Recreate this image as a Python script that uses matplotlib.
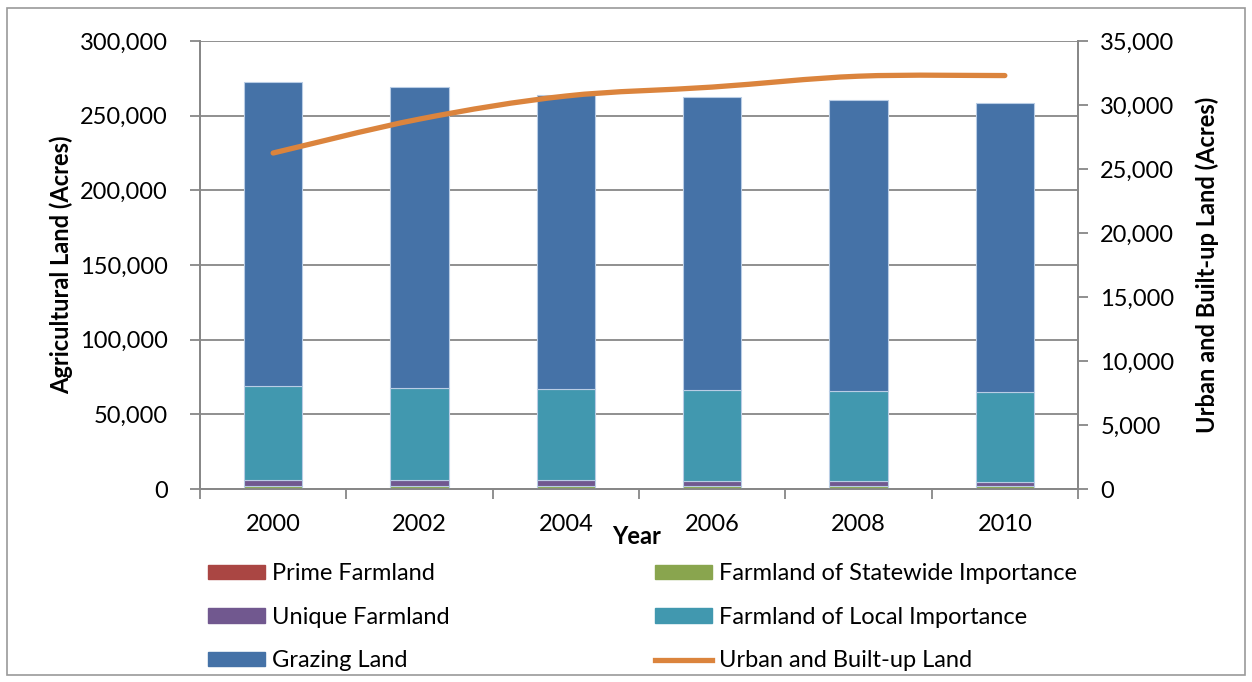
import numpy as np
import matplotlib
matplotlib.use("Agg")
import matplotlib.pyplot as plt
from matplotlib.path import Path
from matplotlib.patches import PathPatch, Rectangle, Patch
from matplotlib.lines import Line2D
from matplotlib.ticker import FuncFormatter, MultipleLocator

plt.rcParams['font.family'] = ['Lato', 'DejaVu Sans']

# Farmland acreage by year
years = ['2000', '2002', '2004', '2006', '2008', '2010']
prime = [200, 200, 200, 200, 200, 200]
statewide = [1500, 1500, 1500, 1500, 1500, 1500]
unique = [4500, 4200, 4000, 3700, 3600, 3200]
local = [62800, 61700, 61300, 60900, 60300, 60100]
grazing = [203500, 201600, 196800, 196200, 194900, 193500]
urban = [26250, 28900, 30700, 31400, 32250, 32300]

c_prime = '#AA4643'
c_state = '#89A54E'
c_unique = '#71588F'
c_local = '#4198AF'
c_grazing = '#4572A7'
c_urban = '#DB843D'
grid_c = '#878787'
fs = 17

fig = plt.figure(figsize=(12.52, 6.82), dpi=100)
ax = fig.add_axes([200/1252, 1-489/682, 878/1252, 448/682])
ax2 = ax.twinx()

x = np.arange(len(years))
w = 0.4
bottom = np.zeros(len(years))
for vals, col in [(prime, c_prime), (statewide, c_state), (unique, c_unique),
                  (local, c_local), (grazing, c_grazing)]:
    ax.bar(x, vals, w, bottom=bottom, color=col, edgecolor='#B9CDE5',
           linewidth=0.8, zorder=3)
    bottom += np.array(vals)

ax.set_xlim(-0.5, len(years) - 0.5)
ax.set_ylim(0, 300000)
ax.yaxis.set_major_locator(MultipleLocator(50000))
ax.yaxis.set_major_formatter(FuncFormatter(lambda v, p: f"{int(v):,}"))
ax.grid(axis='y', color=grid_c, linewidth=1.3, zorder=0)
ax.set_axisbelow(True)
ax.set_xticks(x)
ax.set_xticklabels(years)
ax.set_xticks(np.arange(-0.5, len(years)), minor=True)
ax.tick_params(axis='x', which='major', length=0, pad=18, labelsize=fs)
ax.tick_params(axis='x', which='minor', length=7, width=1.3, color=grid_c)
ax.tick_params(axis='y', length=7, width=1.3, color=grid_c, labelsize=fs, pad=16)

for a in (ax, ax2):
    a.spines['top'].set_visible(False)
    for s in ('left', 'right', 'bottom'):
        a.spines[s].set_color(grid_c)
        a.spines[s].set_linewidth(1.3)

ax2.set_ylim(0, 35000)
ax2.yaxis.set_major_locator(MultipleLocator(5000))
ax2.yaxis.set_major_formatter(FuncFormatter(lambda v, p: f"{int(v):,}"))
ax2.tick_params(axis='y', length=7, width=1.3, color=grid_c, labelsize=fs, pad=9)

# smoothed urban line drawn as bezier segments through the yearly points
pts = np.column_stack([x, urban]).astype(float)
ext = np.vstack([pts[0], pts, pts[-1]])
verts = [tuple(pts[0])]
codes = [Path.MOVETO]
for i in range(len(pts) - 1):
    p0, p1, p2, p3 = ext[i], ext[i + 1], ext[i + 2], ext[i + 3]
    c1 = p1 + (p2 - p0) / 6
    c2 = p2 - (p3 - p1) / 6
    verts += [tuple(c1), tuple(c2), tuple(p2)]
    codes += [Path.CURVE4] * 3
ax2.add_patch(PathPatch(Path(verts, codes), facecolor='none', edgecolor=c_urban,
                        linewidth=3.8, capstyle='round', zorder=4))

ax.set_ylabel('Agricultural Land (Acres)', fontsize=fs, fontweight='bold')
ax.yaxis.set_label_coords(-0.145, 0.5)
ax2.set_ylabel('Urban and Built-up Land (Acres)', fontsize=fs, fontweight='bold')
ax2.yaxis.set_label_coords(1.134, 0.5)
fig.text(637/1252, 1-537/682, 'Year', fontsize=fs, fontweight='bold',
         ha='center', va='center')

handles = [Patch(color=c_prime), Patch(color=c_unique), Patch(color=c_grazing),
           Patch(color=c_state), Patch(color=c_local),
           Line2D([], [], color=c_urban, linewidth=3.8)]
labels = ['Prime Farmland', 'Unique Farmland', 'Grazing Land',
          'Farmland of Statewide Importance', 'Farmland of Local Importance',
          'Urban and Built-up Land']
fig.legend(handles, labels, ncol=2, loc='upper left',
           bbox_to_anchor=(199/1252, 1-554/682), frameon=False, fontsize=fs,
           handlelength=2.4, handleheight=0.55, handletextpad=0.3,
           columnspacing=8.7, labelspacing=0.95, borderaxespad=0)

fig.patches.append(Rectangle((7/1252, 1-675/682), 1238/1252, 667/682,
                             transform=fig.transFigure, fill=False,
                             edgecolor='#9A9A9A', linewidth=1.2))

fig.savefig('out.png', dpi=100)
